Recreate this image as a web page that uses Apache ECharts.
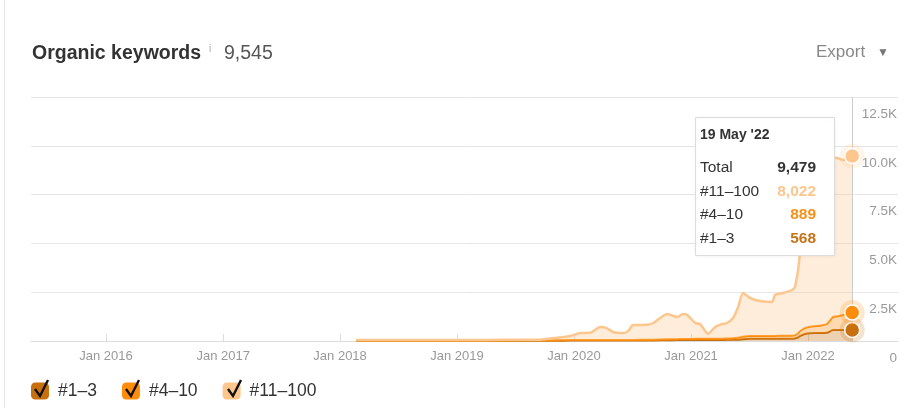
<!DOCTYPE html>
<html><head><meta charset="utf-8">
<script src="https://cdn.jsdelivr.net/npm/echarts@6/dist/echarts.min.js"></script>
<style>html,body{margin:0;padding:0;background:#fff;}#c{width:917px;height:408px;}</style>
</head><body><div id="c"></div>
<script>
const dates = ['2018-02-21','2018-06-01','2018-10-01','2019-02-01','2019-06-01','2019-09-18','2019-11-01','2019-12-21',
'2020-01-21','2020-02-21','2020-03-23','2020-04-14','2020-05-03','2020-06-03','2020-06-19','2020-07-04','2020-08-17','2020-09-05',
'2020-10-18','2020-11-19','2020-12-07','2020-12-20','2021-01-14','2021-01-29','2021-02-23','2021-03-17','2021-04-08','2021-04-23',
'2021-05-12','2021-05-28','2021-06-12','2021-07-04','2021-08-04','2021-09-11','2021-09-20','2021-10-15','2021-11-12','2021-11-21',
'2021-12-01','2021-12-07','2021-12-23','2022-01-07','2022-01-23','2022-02-07','2022-03-01','2022-03-20','2022-04-01','2022-04-20','2022-05-19'];
const s1_3 = [15,15,15,15,15,15,18,20,20,20,22,22,22,22,25,25,30,30,40,45,45,45,50,50,50,55,55,60,60,70,90,110,110,115,115,120,120,130,180,250,360,400,410,410,420,560,560,560,568];
const s4_10 = [15,15,15,15,15,20,20,25,25,25,28,28,28,28,30,30,35,40,45,50,55,55,60,60,60,60,65,70,80,100,130,140,140,140,145,145,150,160,200,250,300,330,350,370,450,670,700,770,889];
const s11_100 = [20,20,25,25,30,35,112,211,365,375,667,600,400,360,465,765,765,852,1298,1135,1283,1230,812,760,250,602,750,792,1038,1572,2239,1953,1799,1743,2097,2194,2343,2476,3257,4008,5840,7770,8640,8720,8550,8145,8115,7943,8022];
const seriesNames = ['#1\u20133','#4\u201310','#11\u2013100'];
const seriesColors = ['#c8700e','#ff8c0a','#fdc68c'];
const yTicks = [0,2500,5000,7500,10000,12500];
const xMin = '2015-05-12', xMax = '2022-10-09';
const titleText = 'Organic keywords', titleCount = '9,545';

const chart = echarts.init(document.getElementById('c'), null, {renderer:'canvas'});
const FONT = '"Liberation Sans", Arial, sans-serif';
const vals = [s1_3, s4_10, s11_100];
const last = dates.length - 1;
const lastDate = dates[last];
const fmt = n => n.toLocaleString('en-US');
const total = s1_3[last] + s4_10[last] + s11_100[last];
const months = ['Jan','Feb','Mar','Apr','May','Jun','Jul','Aug','Sep','Oct','Nov','Dec'];
const ld = new Date(lastDate);
const tipDate = ld.getDate() + ' ' + months[ld.getMonth()] + " '" + String(ld.getFullYear()).slice(2);

let cum = 0;
const series = vals.map((arr, i) => {
  cum += arr[last];
  const c = seriesColors[i];
  const s = {
    name: seriesNames[i], type: 'line', stack: 'kw', smooth: 0.2,
    showSymbol: false, symbol: 'none',
    data: dates.map((d, k) => [d, arr[k]]),
    lineStyle: {color: c, width: i === 2 ? 2.5 : 2},
    itemStyle: {color: c},
    areaStyle: {color: c, opacity: 0.32},
    z: 2 + i,
    markPoint: {
      silent: true, animation: false,
      label: {show: false},
      data: [
        {coord: [lastDate, cum], symbol: 'circle', symbolSize: 25, itemStyle: {color: c, opacity: 0.2}},
        {coord: [lastDate, cum], symbol: 'circle', symbolSize: 15, itemStyle: {color: c, borderColor: '#fff', borderWidth: 1.5}}
      ]
    }
  };
  if (i === 2) {
    s.markLine = {silent: true, symbol: 'none', animation: false, label: {show: false},
      lineStyle: {color: '#cccccc', width: 1, type: 'solid'}, data: [{xAxis: lastDate}]};
  }
  return s;
});

// tooltip-like box built from data
const tipX = 695, tipY = 117, tipW = 139, tipH = 138;
const rows = [
  ['Total', fmt(total), '#333333'],
  [seriesNames[2], fmt(s11_100[last]), seriesColors[2]],
  [seriesNames[1], fmt(s4_10[last]), '#f7901a'],
  [seriesNames[0], fmt(s1_3[last]), '#c47318']
];
const graphics = [
  {type: 'line', shape: {x1: 4.5, y1: 0, x2: 4.5, y2: 408}, style: {stroke: '#e6e6e6', lineWidth: 1}, silent: true},
  {type: 'text', left: 32, top: 44, style: {text: titleText, font: 'bold 19.5px ' + FONT, fill: '#333'}},
  {type: 'text', left: 209, top: 44, style: {text: 'i', font: '10px ' + FONT, fill: '#aaa'}},
  {type: 'text', left: 224, top: 44, style: {text: titleCount, font: '19.5px ' + FONT, fill: '#555'}},
  {type: 'text', left: 816, top: 44, style: {text: 'Export', font: '17px ' + FONT, fill: '#888'}},
  {type: 'text', left: 877, top: 47, style: {text: '\u25BC', font: '12px ' + FONT, fill: '#777'}},
  {type: 'rect', shape: {x: tipX + 0.5, y: tipY + 0.5, width: tipW, height: tipH}, style: {fill: '#fff', stroke: '#dddddd', lineWidth: 1, shadowBlur: 4, shadowColor: 'rgba(0,0,0,0.06)'}, z: 100},
  {type: 'text', x: tipX + 5, y: tipY + 11, z: 101, style: {text: tipDate, font: 'bold 14px ' + FONT, fill: '#333'}}
];
rows.forEach((r, k) => {
  const y = tipY + 43 + k * 23.5;
  graphics.push({type: 'text', x: tipX + 5, y: y, z: 101, style: {text: r[0], font: '15.5px ' + FONT, fill: '#333'}});
  graphics.push({type: 'text', x: tipX + 121, y: y, z: 101, style: {text: r[1], font: 'bold 15.5px ' + FONT, fill: r[2], textAlign: 'right'}});
});
// legend check marks
const boxX = [31, 122, 224];
boxX.forEach(x => {
  graphics.push({type: 'polyline', z: 200, shape: {points: [[x + 4, 389], [x + 9, 396], [x + 17, 380]]}, style: {stroke: '#111', lineWidth: 2.4, fill: null}});
});

chart.setOption({
  animation: false,
  textStyle: {fontFamily: FONT},
  grid: {left: 31, right: 19, top: 97, bottom: 67, containLabel: false},
  legend: {
    data: seriesNames, left: 31, top: 382, padding: 0, icon: 'roundRect', itemWidth: 18, itemHeight: 17, itemGap: 25,
    selectedMode: false,
    textStyle: {fontSize: 17.5, lineHeight: 18, color: '#333', padding: [0, 0, 0, 4], fontFamily: FONT}
  },
  xAxis: {
    type: 'time', min: xMin, max: xMax,
    minInterval: 365 * 86400000, maxInterval: 366 * 86400000,
    axisLine: {lineStyle: {color: '#dcdcdc'}},
    axisTick: {show: true, inside: true, length: 7, lineStyle: {color: '#dcdcdc'}},
    splitLine: {show: false},
    axisLabel: {
      color: '#999', fontSize: 13, margin: 9, showMinLabel: false, showMaxLabel: false,
      formatter: v => { const d = new Date(v); return (d.getMonth() === 0 && d.getDate() === 1) ? 'Jan ' + d.getFullYear() : ''; }
    }
  },
  yAxis: {
    type: 'value', position: 'right', min: yTicks[0], max: yTicks[yTicks.length - 1], interval: yTicks[1] - yTicks[0],
    axisLine: {show: false}, axisTick: {show: false},
    splitLine: {lineStyle: {color: '#e6e6e6'}},
    axisLabel: {
      inside: true, margin: 1, color: '#999', fontSize: 13.5, verticalAlign: 'top', padding: [10, 0, 0, 0],
      formatter: v => v === 0 ? '0' : (v / 1000).toFixed(1) + 'K'
    }
  },
  series: series,
  graphic: graphics
});
</script></body></html>
